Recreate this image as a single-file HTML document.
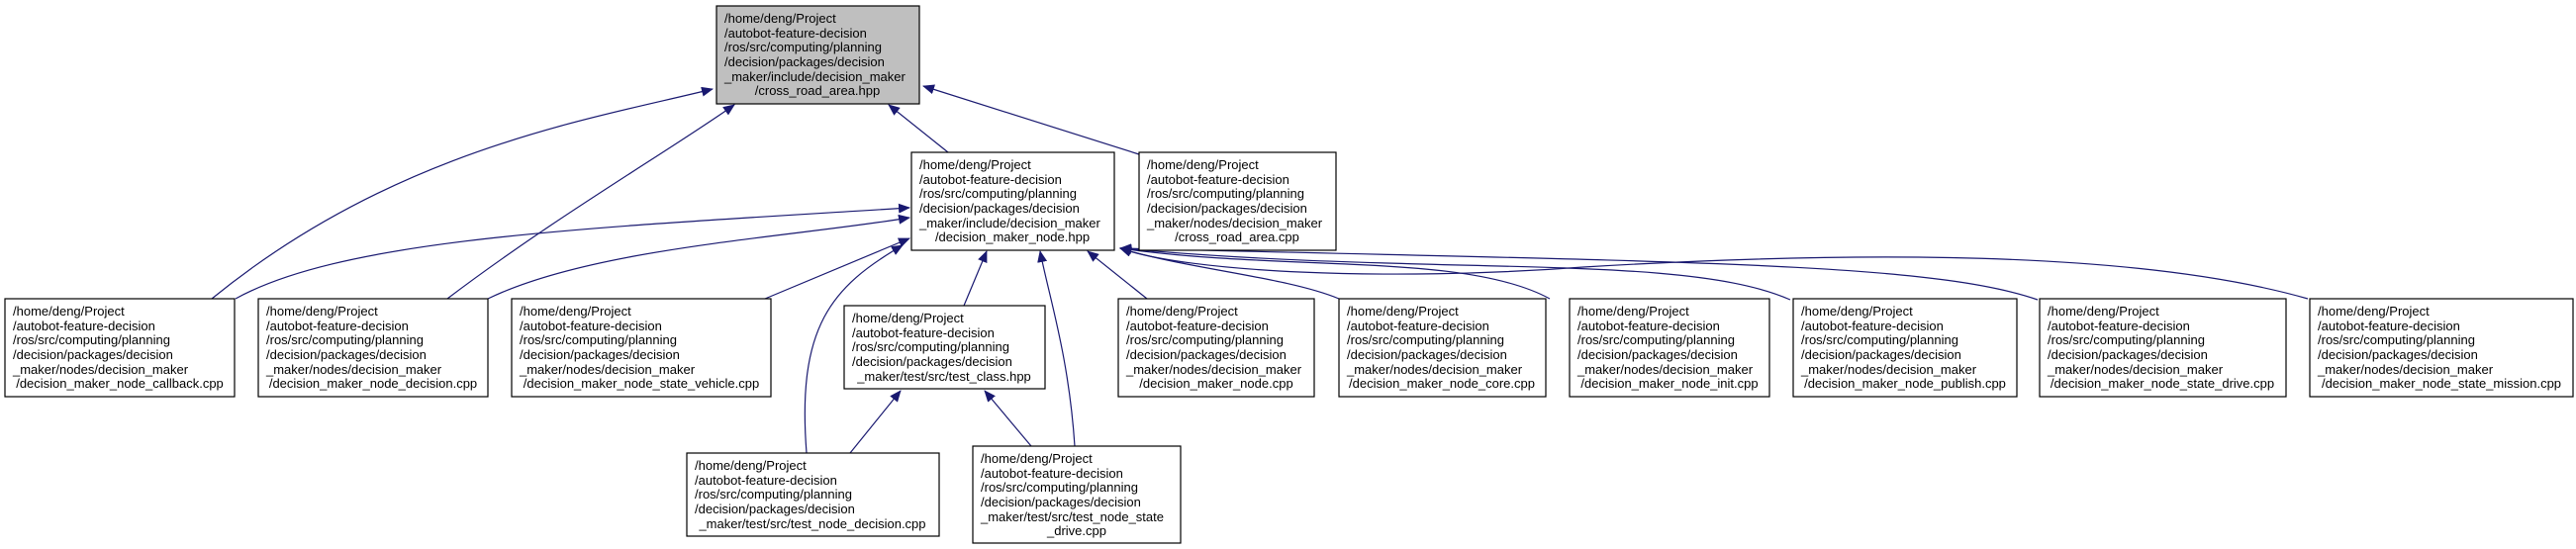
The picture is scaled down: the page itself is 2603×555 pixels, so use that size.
<!DOCTYPE html>
<html><head><meta charset="utf-8"><style>
html,body{margin:0;padding:0;background:#fff;}
svg{display:block;}
text{font-family:"Liberation Sans",Arial,sans-serif;font-size:13px;fill:#000;}
.e{fill:none;stroke:#191970;stroke-width:1.2;}
.n{fill:#fff;stroke:#000;stroke-width:1.2;}
</style></head><body>
<svg width="2603" height="555" viewBox="0 0 2603 555" xmlns="http://www.w3.org/2000/svg">
<defs><marker id="a" markerWidth="12" markerHeight="10" refX="11" refY="5" orient="auto" markerUnits="userSpaceOnUse"><path d="M0,0 L12,5 L0,10 z" fill="#191970"/></marker></defs>

<g class="e" marker-end="url(#a)">
<path d="M214,302 C400,150 600,120 720,90"/>
<path d="M452,302 C560,220 680,150 742,106"/>
<path d="M958,154 L898,106"/>
<path d="M1151,156 L933,87"/>
<path d="M238,302 C350,240 600,230 919,210"/>
<path d="M493,302 C600,250 800,240 919,220"/>
<path d="M773,302 L919,241"/>
<path d="M815,458 C805,330 840,290 912,248"/>
<path d="M974,309 L997,254"/>
<path d="M1086,451 C1080,360 1060,300 1051,254"/>
<path d="M1159,302 L1099,254"/>
<path d="M1353,302 C1300,280 1200,272 1132,251"/>
<path d="M1566,302 C1480,255 1300,275 1132,251"/>
<path d="M1809,303 C1700,255 1450,280 1132,251"/>
<path d="M2059,303 C1950,265 1700,265 1132,251"/>
<path d="M2332,302 C2150,250 1850,255 1600,270 C1400,285 1200,275 1132,251"/>
<path d="M859,458 L910,395"/>
<path d="M1042,451 L995,395"/>
</g>

<rect x="724" y="6" width="205" height="99" fill="#bfbfbf" stroke="#000" stroke-width="1.2"/>
<text x="732" y="23">/home/deng/Project</text>
<text x="732" y="38">/autobot-feature-decision</text>
<text x="732" y="52">/ros/src/computing/planning</text>
<text x="732" y="67">/decision/packages/decision</text>
<text x="732" y="82">_maker/include/decision_maker</text>
<text x="826" y="96" text-anchor="middle">/cross_road_area.hpp</text>

<rect class="n" x="921" y="154" width="205" height="99"/>
<text x="929" y="171">/home/deng/Project</text>
<text x="929" y="186">/autobot-feature-decision</text>
<text x="929" y="200">/ros/src/computing/planning</text>
<text x="929" y="215">/decision/packages/decision</text>
<text x="929" y="230">_maker/include/decision_maker</text>
<text x="1023" y="244" text-anchor="middle">/decision_maker_node.hpp</text>

<rect class="n" x="1151" y="154" width="199" height="99"/>
<text x="1159" y="171">/home/deng/Project</text>
<text x="1159" y="186">/autobot-feature-decision</text>
<text x="1159" y="200">/ros/src/computing/planning</text>
<text x="1159" y="215">/decision/packages/decision</text>
<text x="1159" y="230">_maker/nodes/decision_maker</text>
<text x="1250" y="244" text-anchor="middle">/cross_road_area.cpp</text>

<g>
<rect class="n" x="5" y="302" width="232" height="99"/>
<text x="13" y="319">/home/deng/Project</text>
<text x="13" y="334">/autobot-feature-decision</text>
<text x="13" y="348">/ros/src/computing/planning</text>
<text x="13" y="363">/decision/packages/decision</text>
<text x="13" y="378">_maker/nodes/decision_maker</text>
<text x="121" y="392" text-anchor="middle">/decision_maker_node_callback.cpp</text>
</g>
<g>
<rect class="n" x="261" y="302" width="232" height="99"/>
<text x="269" y="319">/home/deng/Project</text>
<text x="269" y="334">/autobot-feature-decision</text>
<text x="269" y="348">/ros/src/computing/planning</text>
<text x="269" y="363">/decision/packages/decision</text>
<text x="269" y="378">_maker/nodes/decision_maker</text>
<text x="377" y="392" text-anchor="middle">/decision_maker_node_decision.cpp</text>
</g>
<g>
<rect class="n" x="517" y="302" width="262" height="99"/>
<text x="525" y="319">/home/deng/Project</text>
<text x="525" y="334">/autobot-feature-decision</text>
<text x="525" y="348">/ros/src/computing/planning</text>
<text x="525" y="363">/decision/packages/decision</text>
<text x="525" y="378">_maker/nodes/decision_maker</text>
<text x="648" y="392" text-anchor="middle">/decision_maker_node_state_vehicle.cpp</text>
</g>
<g>
<rect class="n" x="853" y="309" width="203" height="84"/>
<text x="861" y="326">/home/deng/Project</text>
<text x="861" y="341">/autobot-feature-decision</text>
<text x="861" y="355">/ros/src/computing/planning</text>
<text x="861" y="370">/decision/packages/decision</text>
<text x="954" y="385" text-anchor="middle">_maker/test/src/test_class.hpp</text>
</g>
<g>
<rect class="n" x="1130" y="302" width="198" height="99"/>
<text x="1138" y="319">/home/deng/Project</text>
<text x="1138" y="334">/autobot-feature-decision</text>
<text x="1138" y="348">/ros/src/computing/planning</text>
<text x="1138" y="363">/decision/packages/decision</text>
<text x="1138" y="378">_maker/nodes/decision_maker</text>
<text x="1229" y="392" text-anchor="middle">/decision_maker_node.cpp</text>
</g>
<g>
<rect class="n" x="1353" y="302" width="209" height="99"/>
<text x="1361" y="319">/home/deng/Project</text>
<text x="1361" y="334">/autobot-feature-decision</text>
<text x="1361" y="348">/ros/src/computing/planning</text>
<text x="1361" y="363">/decision/packages/decision</text>
<text x="1361" y="378">_maker/nodes/decision_maker</text>
<text x="1457" y="392" text-anchor="middle">/decision_maker_node_core.cpp</text>
</g>
<g>
<rect class="n" x="1586" y="302" width="202" height="99"/>
<text x="1594" y="319">/home/deng/Project</text>
<text x="1594" y="334">/autobot-feature-decision</text>
<text x="1594" y="348">/ros/src/computing/planning</text>
<text x="1594" y="363">/decision/packages/decision</text>
<text x="1594" y="378">_maker/nodes/decision_maker</text>
<text x="1687" y="392" text-anchor="middle">/decision_maker_node_init.cpp</text>
</g>
<g>
<rect class="n" x="1812" y="302" width="226" height="99"/>
<text x="1820" y="319">/home/deng/Project</text>
<text x="1820" y="334">/autobot-feature-decision</text>
<text x="1820" y="348">/ros/src/computing/planning</text>
<text x="1820" y="363">/decision/packages/decision</text>
<text x="1820" y="378">_maker/nodes/decision_maker</text>
<text x="1925" y="392" text-anchor="middle">/decision_maker_node_publish.cpp</text>
</g>
<g>
<rect class="n" x="2061" y="302" width="249" height="99"/>
<text x="2069" y="319">/home/deng/Project</text>
<text x="2069" y="334">/autobot-feature-decision</text>
<text x="2069" y="348">/ros/src/computing/planning</text>
<text x="2069" y="363">/decision/packages/decision</text>
<text x="2069" y="378">_maker/nodes/decision_maker</text>
<text x="2185" y="392" text-anchor="middle">/decision_maker_node_state_drive.cpp</text>
</g>
<g>
<rect class="n" x="2334" y="302" width="266" height="99"/>
<text x="2342" y="319">/home/deng/Project</text>
<text x="2342" y="334">/autobot-feature-decision</text>
<text x="2342" y="348">/ros/src/computing/planning</text>
<text x="2342" y="363">/decision/packages/decision</text>
<text x="2342" y="378">_maker/nodes/decision_maker</text>
<text x="2467" y="392" text-anchor="middle">/decision_maker_node_state_mission.cpp</text>
</g>

<g>
<rect class="n" x="694" y="458" width="255" height="84"/>
<text x="702" y="475">/home/deng/Project</text>
<text x="702" y="490">/autobot-feature-decision</text>
<text x="702" y="504">/ros/src/computing/planning</text>
<text x="702" y="519">/decision/packages/decision</text>
<text x="821" y="534" text-anchor="middle">_maker/test/src/test_node_decision.cpp</text>
</g>
<g>
<rect class="n" x="983" y="451" width="210" height="98"/>
<text x="991" y="468">/home/deng/Project</text>
<text x="991" y="483">/autobot-feature-decision</text>
<text x="991" y="497">/ros/src/computing/planning</text>
<text x="991" y="512">/decision/packages/decision</text>
<text x="991" y="527">_maker/test/src/test_node_state</text>
<text x="1088" y="541" text-anchor="middle">_drive.cpp</text>
</g>
</svg>
</body></html>
